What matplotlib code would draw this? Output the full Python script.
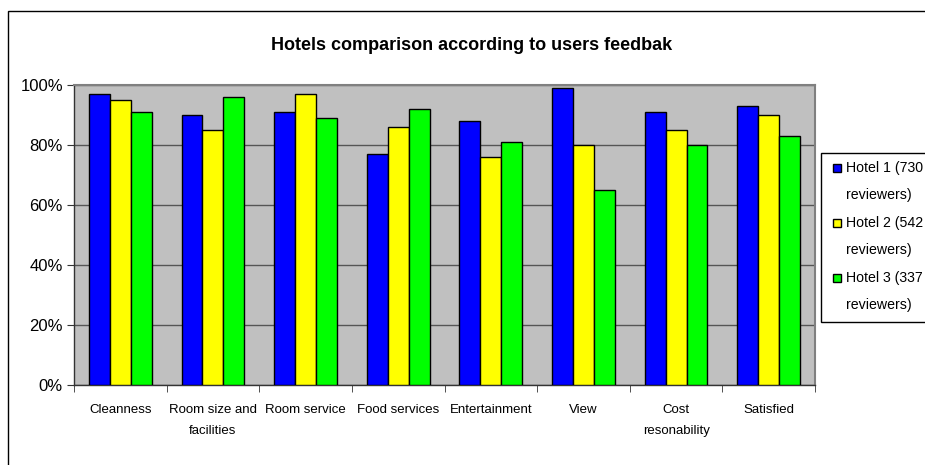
import matplotlib
matplotlib.use("Agg")
import matplotlib.pyplot as plt
import numpy as np
from matplotlib.patches import Rectangle
from matplotlib.ticker import FuncFormatter, MultipleLocator

plt.rcParams['font.family'] = ['Liberation Sans', 'DejaVu Sans']

categories = ["Cleanness", "Room size and\nfacilities", "Room service", "Food services",
              "Entertainment", "View", "Cost\nresonability", "Satisfied"]
series_names = ["Hotel 1 (730\nreviewers)", "Hotel 2 (542\nreviewers)", "Hotel 3 (337\nreviewers)"]
hotel1 = [97, 90, 91, 77, 88, 99, 91, 93]
hotel2 = [95, 85, 97, 86, 76, 80, 85, 90]
hotel3 = [91, 96, 89, 92, 81, 65, 80, 83]
colors = ["#0000FF", "#FFFF00", "#00FF00"]

W, H = 925, 465
fig = plt.figure(figsize=(W / 100, H / 100), dpi=100)
fig.patch.set_facecolor("white")

def fx(px):
    return px / W

def fy(py):
    return 1 - py / H

# outer chart frame
fig.patches.append(Rectangle((fx(8), -0.1), 1.2, fy(11) + 0.1, transform=fig.transFigure,
                             fill=False, edgecolor="black", linewidth=1.0))

ax = fig.add_axes([fx(74), fy(385), (815 - 74) / W, (385 - 85) / H])
ax.set_facecolor("#C0C0C0")

x = np.arange(len(categories))
bw = 0.226
for i, (vals, c) in enumerate(zip([hotel1, hotel2, hotel3], colors)):
    ax.bar(x + (i - 1) * bw, vals, width=bw, color=c, edgecolor="black", linewidth=1.0, zorder=3)

ax.set_xlim(-0.5, len(categories) - 0.5)
ax.set_ylim(0, 100)
ax.yaxis.set_major_locator(MultipleLocator(20))
ax.yaxis.set_major_formatter(FuncFormatter(lambda v, p: f"{int(v)}%"))
ax.grid(axis="y", color="#555555", linewidth=1.0, zorder=1)
ax.set_axisbelow(True)

ax.set_xticks(x)
ax.set_xticklabels(categories, fontsize=9.5, linespacing=1.9, va="top")
ax.tick_params(axis="x", length=0, pad=14)
ax.set_xticks(np.arange(len(categories) + 1) - 0.5, minor=True)
ax.tick_params(axis="x", which="minor", length=5, direction="out", color="#333333")
ax.tick_params(axis="y", length=5, direction="out", color="#333333", labelsize=12, pad=3)

for s in ["top", "right"]:
    ax.spines[s].set_color("#808080")
    ax.spines[s].set_linewidth(1.5)
for s in ["left", "bottom"]:
    ax.spines[s].set_color("#333333")
    ax.spines[s].set_linewidth(1.0)

fig.text(fx(472), fy(45), "Hotels comparison according to users feedbak",
         ha="center", va="center", fontsize=13, fontweight="bold")

# legend (drawn manually to mimic the spreadsheet layout)
fig.patches.append(Rectangle((fx(821), fy(322)), 0.2, (322 - 153) / H, transform=fig.transFigure,
                             facecolor="white", edgecolor="black", linewidth=1.0, zorder=5))
entry_top = 168
entry_pitch = 55
line_pitch = 27
for k, (name, c) in enumerate(zip(series_names, colors)):
    y0 = entry_top + k * entry_pitch
    fig.patches.append(Rectangle((fx(833), fy(y0 + 4)), 8 / W, 8 / H, transform=fig.transFigure,
                                 facecolor=c, edgecolor="black", linewidth=1.0, zorder=6))
    for j, line in enumerate(name.split("\n")):
        fig.text(fx(846), fy(y0 + j * line_pitch), line, ha="left", va="center",
                 fontsize=10.2, zorder=7)

fig.savefig("out.png", dpi=100)
